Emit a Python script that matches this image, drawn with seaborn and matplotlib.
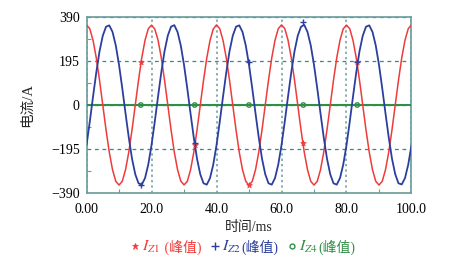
import numpy as np
import pandas as pd
import matplotlib
matplotlib.use("Agg")
import matplotlib.pyplot as plt
import seaborn as sns
from matplotlib.lines import Line2D

# ---- data ----
time_ms = list(range(0, 101))  # sample times, ms
i_z1 = [355, 338, 287, 209, 110, 0, -110, -209, -287, -338, -355, -338, -287, -209, -110, 0, 110, 209, 287, 338,
        354, 337, 288, 210, 111, 1, -109, -208, -286, -337, -354, -339, -288, -210, -111, -1, 109, 208, 286, 337,
        355, 338, 287, 209, 110, 0, -110, -209, -287, -338, -356, -338, -287, -209, -110, 0, 110, 209, 287, 338,
        355, 339, 288, 210, 111, 0, -110, -209, -287, -338, -355, -338, -287, -209, -110, 0, 110, 209, 287, 338,
        354, 338, 287, 209, 110, 0, -110, -209, -287, -338, -355, -338, -287, -209, -110, 0, 110, 209, 287, 338,
        355]
i_z2 = [-178, -74, 37, 144, 238, 307, 347, 353, 324, 264, 178, 74, -37, -144, -238, -307, -347, -353, -324, -264,
        -178, -74, 37, 144, 238, 307, 347, 354, 324, 264, 178, 74, -37, -144, -238, -307, -347, -353, -324, -264,
        -178, -74, 37, 144, 238, 307, 347, 353, 324, 264, 178, 74, -37, -144, -238, -307, -347, -353, -324, -264,
        -178, -74, 37, 144, 238, 307, 347, 355, 324, 264, 178, 74, -37, -144, -238, -307, -347, -353, -324, -264,
        -178, -74, 37, 144, 238, 307, 347, 353, 324, 264, 178, 74, -37, -144, -238, -307, -347, -352, -324, -264,
        -178]
i_z4 = [0] * 101

peak_t = [16.7, 33.3, 50.0, 66.7, 83.3]
peak_z1 = [190, -178, -355, -170, 190]
peak_z2 = [-355, -170, 190, 368, 190]
peak_z4 = [0, 0, 0, 0, 0]

x_ticks = [0, 20, 40, 60, 80, 100]
x_labels = ["0.00", "20.0", "40.0", "60.0", "80.0", "100.0"]
y_ticks = [-390, -195, 0, 195, 390]
y_labels = ["\u2212390", "\u2212195", "0", "195", "390"]

series_names = [r"$I_{Z1}$", r"$I_{Z2}$", r"$I_{Z4}$"]
series_suffix = [" (峰值)", "(峰值)", "(峰值)"]

RED = "#ee3b3b"
BLUE = "#2b3f9e"
GREEN = "#2f8f46"
SPINE = "#6a9c9c"
CJK = ["Liberation Serif", "Noto Sans CJK SC"]

sns.set_theme(style="white")
plt.rcParams["font.family"] = CJK
plt.rcParams["mathtext.fontset"] = "stix"

fig = plt.figure(figsize=(4.61, 2.65), dpi=100)
ax = fig.add_axes([0.1877, 0.2717, 0.7049, 0.6641])

df = pd.DataFrame({"t": time_ms, "z1": i_z1, "z2": i_z2, "z4": i_z4})
pk = pd.DataFrame({"t": peak_t, "z1": peak_z1, "z2": peak_z2, "z4": peak_z4})

sns.lineplot(data=df, x="t", y="z4", ax=ax, color=GREEN, lw=1.5, zorder=3)
sns.lineplot(data=df, x="t", y="z1", ax=ax, color=RED, lw=1.1, zorder=4)
sns.lineplot(data=df, x="t", y="z2", ax=ax, color=BLUE, lw=1.3, zorder=5)

ax.scatter(pk["t"], pk["z4"], marker="o", s=10, facecolors="none", edgecolors=GREEN, linewidths=1.0, zorder=6)
ax.scatter(pk["t"], pk["z1"], marker="*", s=18, color=RED, linewidths=0.5, zorder=6)
ax.scatter(pk["t"], pk["z2"], marker="+", s=25, color=BLUE, linewidths=1.0, zorder=7)

ax.set_xlim(0, 100)
ax.set_ylim(-390, 390)
ax.set_xticks(x_ticks)
ax.set_xticklabels(x_labels)
ax.set_yticks(y_ticks)
ax.set_yticklabels(y_labels)
ax.set_xticks([10, 30, 50, 70, 90], minor=True)
ax.set_yticks([-292.5, -97.5, 97.5, 292.5], minor=True)
ax.tick_params(axis="both", which="both", direction="in", colors=SPINE,
               labelcolor="black", labelsize=10)
ax.tick_params(axis="x", which="major", length=0, pad=7)
ax.tick_params(axis="y", which="major", length=0, pad=5)
ax.tick_params(axis="both", which="minor", length=3, width=0.8)
ax.tick_params(axis="both", which="both", bottom=True, left=True)

for s in ax.spines.values():
    s.set_color(SPINE)
    s.set_linewidth(1.2)

ax.yaxis.grid(True, which="major", ls=(0, (3, 3)), color="#3f8585", lw=0.9)
ax.xaxis.grid(True, which="major", ls=(0, (1.5, 2)), color="#6a9a9a", lw=1.1)

ax.set_xlabel("时间/ms", fontsize=10, labelpad=4, family=CJK)
ax.set_ylabel("电流/A", fontsize=10.5, labelpad=12, family=CJK)

# ---- legend built piece by piece (math name + CJK suffix) ----
renderer = fig.canvas.get_renderer()
W = fig.get_figwidth() * fig.dpi
y_leg = 0.068
x = 131 / W
marker_specs = [dict(marker="*", ms=4.5, color=RED, mew=0.5),
                dict(marker="+", ms=6, color=BLUE, mew=1.0),
                dict(marker="o", ms=3.5, mfc="none", mec=GREEN, mew=1.0)]
colors = [RED, BLUE, GREEN]
for spec, name, suf, c in zip(marker_specs, series_names, series_suffix, colors):
    fig.add_artist(Line2D([x + 4 / W], [y_leg + 0.003], ls="none", transform=fig.transFigure, **spec))
    x += 11 / W
    t1 = fig.text(x, y_leg, name, color=c, fontsize=11.5, va="center", ha="left")
    bb = t1.get_window_extent(renderer)
    x = bb.x1 / W + 1 / W
    t2 = fig.text(x, y_leg, suf, color=c, fontsize=10, va="center", ha="left", family=CJK)
    bb = t2.get_window_extent(renderer)
    x = bb.x1 / W + 9 / W

fig.savefig("out.png", dpi=100)
